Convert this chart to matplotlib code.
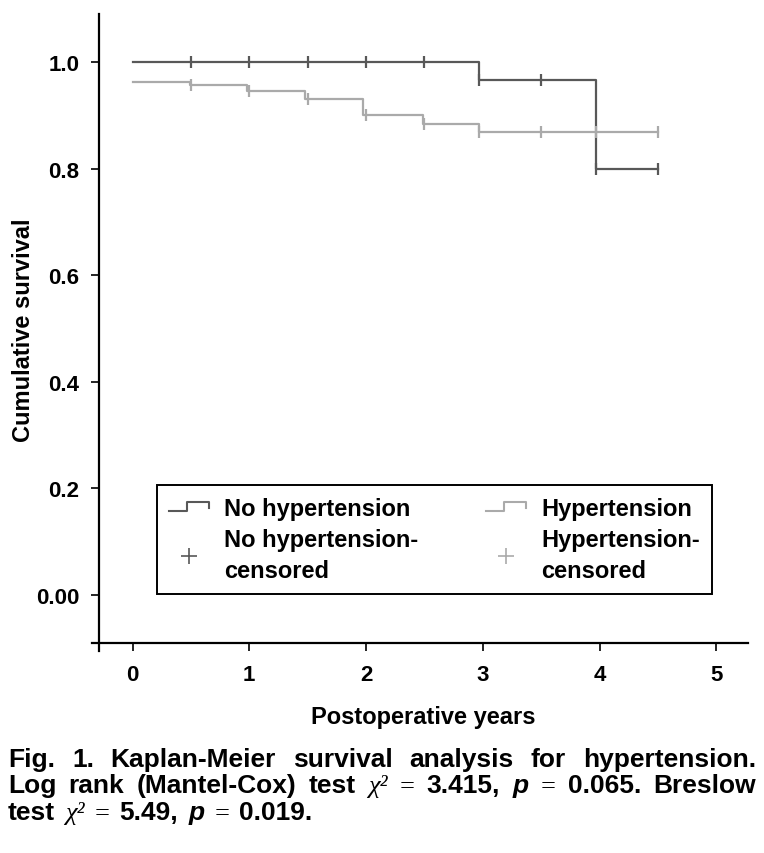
import matplotlib
matplotlib.use("Agg")
import matplotlib.pyplot as plt
from matplotlib.lines import Line2D
from matplotlib.legend_handler import HandlerBase

# dati
no_ht_t = [0, 2.97, 3.97, 4.5]
no_ht_s = [1.0, 0.967, 0.80, 0.80]
no_ht_cens_t = [0.5, 1.0, 1.5, 2.0, 2.5, 2.97, 3.5, 3.97, 4.5]
no_ht_cens_s = [1.0, 1.0, 1.0, 1.0, 1.0, 0.967, 0.967, 0.80, 0.80]

ht_t = [0, 0.49, 0.98, 1.48, 1.97, 2.49, 2.97, 4.5]
ht_s = [0.963, 0.957, 0.946, 0.931, 0.901, 0.883, 0.868, 0.868]
ht_cens_t = [0.5, 1.0, 1.5, 2.0, 2.5, 2.97, 3.5, 3.97, 4.5]
ht_cens_s = [0.957, 0.946, 0.931, 0.901, 0.883, 0.868, 0.868, 0.868, 0.868]

xticks = [0, 1, 2, 3, 4, 5]
yticks = [0.0, 0.2, 0.4, 0.6, 0.8, 1.0]
ytick_labels = ["0.00", "0.2", "0.4", "0.6", "0.8", "1.0"]

dark = "#585858"
light = "#aaaaaa"
plt.rcParams["font.family"] = ["Liberation Sans", "DejaVu Sans"]
plt.rcParams["font.weight"] = "bold"


class StepHandler(HandlerBase):
    # icona a gradino per la legenda
    def create_artists(self, legend, orig_handle, xdescent, ydescent, width, height, fontsize, trans):
        x0 = -xdescent
        y0 = -ydescent
        xs = [x0, x0 + 0.45 * width, x0 + 0.45 * width, x0 + width, x0 + width]
        ys = [y0 + 0.25 * height, y0 + 0.25 * height, y0 + 0.75 * height, y0 + 0.75 * height, y0 + 0.4 * height]
        ln = Line2D(xs, ys, color=orig_handle.get_color(), lw=1.5, transform=trans)
        return [ln]


fig = plt.figure(figsize=(7.64, 8.54), dpi=100)
ax = fig.add_axes([0.1296, 0.2459, 0.8494, 0.7365])

ax.step(no_ht_t, no_ht_s, where="post", color=dark, lw=1.6)
ax.step(ht_t, ht_s, where="post", color=light, lw=1.6)
ax.plot(no_ht_cens_t, no_ht_cens_s, ls="none", marker="|", ms=8, mew=1.6, color=dark)
ax.plot(ht_cens_t, ht_cens_s, ls="none", marker="|", ms=8, mew=1.6, color=light)

ax.set_xlim(-0.287, 5.27)
ax.set_ylim(-0.09, 1.09)
ax.set_xticks(xticks)
ax.set_yticks(yticks)
ax.set_yticklabels(ytick_labels)
ax.tick_params(direction="out", length=6, width=1.2, labelsize=16)
ax.tick_params(axis="y", pad=8)
ax.tick_params(axis="x", pad=9)
for lab in ax.get_xticklabels() + ax.get_yticklabels():
    lab.set_fontweight("bold")

ax.spines["top"].set_visible(False)
ax.spines["right"].set_visible(False)
ax.spines["left"].set_linewidth(1.6)
ax.spines["bottom"].set_linewidth(1.6)
ax.spines["left"].set_bounds(-0.105, 1.09)
ax.spines["bottom"].set_bounds(-0.345, 5.27)

# etichette degli assi
fig.text(24 / 764, 1 - 330 / 854, "Cumulative survival", rotation=90, fontsize=17,
         fontweight="bold", ha="center", va="center")
fig.text(423 / 764, 1 - 724 / 854, "Postoperative years", fontsize=17,
         fontweight="bold", ha="center", va="baseline")

p1 = Line2D([], [], color=dark)
p2 = Line2D([], [], color=light)
m1 = Line2D([], [], ls="none", marker="+", ms=11, mew=1.2, color=dark)
m2 = Line2D([], [], ls="none", marker="+", ms=11, mew=1.2, color=light)
leg = ax.legend([p1, m1, p2, m2],
                ["No hypertension", "No hypertension-\ncensored", "Hypertension", "Hypertension-\ncensored"],
                handler_map={p1: StepHandler(), p2: StepHandler()},
                ncol=2, loc="lower left", bbox_to_anchor=(0.0894, 0.0779, 0.855, 0.178), mode="expand",
                borderaxespad=0, prop={"size": 17, "weight": "bold"}, fancybox=False, framealpha=1,
                handlelength=1.7, handletextpad=0.65, labelspacing=0.35, borderpad=0.5,
                columnspacing=2.0)
for t in leg.get_texts():
    t.set_linespacing(1.45)
leg.get_frame().set_edgecolor("black")
leg.get_frame().set_linewidth(1.4)

# didascalia giustificata, parola per parola
caption = [
    [("Fig.", "b"), ("1.", "b"), ("Kaplan-Meier", "b"), ("survival", "b"),
     ("analysis", "b"), ("for", "b"), ("hypertension.", "b")],
    [("Log", "b"), ("rank", "b"), ("(Mantel-Cox)", "b"), ("test", "b"),
     ("χ²", "chi"), ("=", "eq"), ("3.415,", "b"), ("p", "it"), ("=", "eq"),
     ("0.065.", "b"), ("Breslow", "b")],
    [("test", "b"), ("χ²", "chi"), ("=", "eq"), ("5.49,", "b"), ("p", "it"),
     ("=", "eq"), ("0.019.", "b")],
]
styles = {
    "b": dict(fontweight="bold"),
    "it": dict(fontweight="bold", style="italic"),
    "chi": dict(fontweight="normal", style="italic", family=["Liberation Serif", "DejaVu Serif"]),
    "eq": dict(fontweight="normal", family=["Liberation Serif", "DejaVu Serif"]),
}
x_left = 8 / 764
x_right = 756 / 764
line_y = [1 - 767 / 854, 1 - 793 / 854, 1 - 820 / 854]
renderer = fig.canvas.get_renderer()
for i, words in enumerate(caption):
    objs = []
    for w, st in words:
        t = fig.text(0, line_y[i], w, fontsize=19, va="baseline", **styles[st])
        objs.append(t)
    widths = [o.get_window_extent(renderer).width / fig.bbox.width for o in objs]
    if i < len(caption) - 1:
        gap = (x_right - x_left - sum(widths)) / (len(objs) - 1)
    else:
        gap = 10 / 764
    x = x_left
    for o, wd in zip(objs, widths):
        o.set_x(x)
        x += wd + gap

fig.savefig("out.png", dpi=100)
